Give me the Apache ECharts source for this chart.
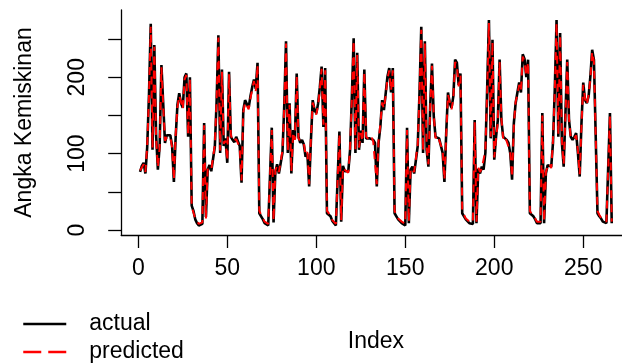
<!DOCTYPE html>
<html>
<head>
<meta charset="utf-8">
<script src="https://cdn.jsdelivr.net/npm/echarts@6/dist/echarts.min.js"></script>
<style>
html, body { margin: 0; padding: 0; background: #fff; }
#main { width: 622px; height: 363px; }
</style>
</head>
<body>
<div id="main"></div>
<script>
// actual values, one block of 38 regions per period (29 kabupaten, 9 kota)
const actual1 = [76,84,88,74,108,176,270,105,242,125,79,110,216,166,114,124,122,124,110,63,122,164,179,166,160,200,205,122,200, 32,25,14,9,6,5,8,140,17];
const actual2 = [79,85,77,75,109,168,255,101,210,110,120,88,207,122,118,115,122,116,110,62,157,170,165,160,175,187,197,185,219, 22,18,14,9,7,6,8,134,10];
const actual3 = [76,86,74,74,101,162,247,101,166,74,131,120,205,122,114,118,112,96,100,57,118,170,157,153,165,187,214,135,212, 22,20,18,12,9,6,6,129,11];
const actual4 = [84,77,77,77,105,175,251,101,232,105,130,114,210,120,122,120,120,118,114,57,114,135,170,157,179,201,212,180,212, 22,18,14,12,9,7,6,134,9];
const actual5 = [79,83,74,74,110,180,266,101,247,105,83,162,218,149,122,122,120,118,101,63,127,180,166,160,175,223,219,190,205, 22,18,14,12,9,8,8,144,9];
const actual6 = [80,74,83,79,101,184,275,120,249,92,122,144,223,144,122,122,118,114,100,66,140,166,180,193,180,230,224,200,223, 22,22,18,14,9,9,9,153,9];
const actual7 = [74,85,85,83,114,184,275,122,258,114,83,153,223,144,122,118,122,127,101,70,140,193,170,166,175,201,236,223,223, 22,18,15,11,9,9,9,153,9];

// predicted values
const pred1 = [78,82,86,76,110,174,266,108,240,122,82,108,213,163,117,121,120,122,108,66,125,161,176,168,158,197,203,125,198, 30,23,15,11,8,7,10,137,15];
const pred2 = [81,83,79,77,111,171,252,104,207,113,117,91,204,125,116,117,119,118,108,65,154,167,167,158,172,184,195,182,216, 25,20,15,11,9,8,10,131,12];
const pred3 = [78,84,76,76,104,160,244,104,164,77,128,118,202,120,116,116,114,98,102,60,121,167,159,151,163,184,211,138,209, 25,22,17,13,11,8,8,126,13];
const pred4 = [82,79,79,75,107,172,248,104,229,108,127,116,207,122,120,118,122,116,116,60,117,138,167,159,176,198,209,182,209, 25,20,15,13,11,9,8,131,11];
const pred5 = [81,81,76,76,112,177,262,104,244,108,86,159,215,151,120,124,118,120,104,66,124,177,168,158,172,220,216,188,202, 25,20,15,13,11,10,10,141,11];
const pred6 = [82,76,81,81,104,181,271,122,246,95,120,141,220,146,120,124,116,116,102,69,137,168,177,190,182,227,221,202,220, 25,24,18,15,11,11,11,150,11];
const pred7 = [76,83,87,81,117,181,271,125,255,117,86,150,220,146,120,120,120,124,104,73,137,190,172,164,177,198,233,220,220, 25,20,16,13,11,11,11,150,11];

const xTicks = [0, 50, 100, 150, 200, 250];
const yTicks = [0, 50, 100, 150, 200, 250];
const yLabels = [0, 100, 200];

const actual = [].concat(actual1, actual2, actual3, actual4, actual5, actual6, actual7);
const predicted = [].concat(pred1, pred2, pred3, pred4, pred5, pred6, pred7);

const font = 'Liberation Sans, Arial, sans-serif';

const chart = echarts.init(document.getElementById('main'));

// legend: one box per entry so they stack like R's legend()
const legendBase = {
    orient: 'vertical',
    left: 22,
    padding: 0,
    itemWidth: 43,
    itemHeight: 14,
    itemStyle: { opacity: 0 },
    textStyle: { fontFamily: font, fontSize: 23, lineHeight: 24, color: '#000', padding: [0, 0, 0, 18] }
};

const option = {
    animation: false,
    backgroundColor: '#fff',
    textStyle: { fontFamily: font, color: '#000' },
    grid: { left: 121.2, top: 10, width: 509.4, height: 225, outerBoundsMode: 'none' },
    legend: [
        Object.assign({}, legendBase, { top: 312, data: [{ name: 'actual', lineStyle: { width: 2.5 } }] }),
        Object.assign({}, legendBase, { top: 340, data: [{ name: 'predicted', lineStyle: { width: 2.5, type: [18, 7] } }] })
    ],
    xAxis: {
        type: 'value',
        min: -9.6,
        max: 276.6,
        name: 'Index',
        nameLocation: 'middle',
        nameGap: 95,
        nameTextStyle: { fontFamily: font, fontSize: 23, color: '#000' },
        axisLine: { show: true, onZero: false, lineStyle: { color: '#000', width: 1.3 } },
        axisTick: { show: true, customValues: xTicks, length: 13, lineStyle: { color: '#000', width: 1.3 } },
        axisLabel: { customValues: xTicks, fontFamily: font, fontSize: 23, color: '#000', margin: 22 },
        splitLine: { show: false }
    },
    yAxis: {
        type: 'value',
        min: -6.5,
        max: 288,
        name: 'Angka Kemiskinan',
        nameLocation: 'middle',
        nameGap: 85,
        nameTextStyle: { fontFamily: font, fontSize: 23, color: '#000' },
        axisLine: { show: true, onZero: false, lineStyle: { color: '#000', width: 1.3 } },
        axisTick: { show: true, customValues: yTicks, length: 13, lineStyle: { color: '#000', width: 1.3 } },
        axisLabel: { customValues: yLabels, rotate: 90, fontFamily: font, fontSize: 23, color: '#000', margin: 32 },
        splitLine: { show: false }
    },
    series: [
        {
            name: 'actual',
            type: 'line',
            symbol: 'none',
            data: actual.map((v, i) => [i + 1, v]),
            lineStyle: { color: '#000', width: 2.6 },
            itemStyle: { color: '#000' }
        },
        {
            name: 'predicted',
            type: 'line',
            symbol: 'none',
            data: predicted.map((v, i) => [i + 1, v]),
            lineStyle: { color: '#ff0000', width: 2, type: [8, 6] },
            itemStyle: { color: '#ff0000' }
        }
    ]
};

chart.setOption(option);
</script>
</body>
</html>
